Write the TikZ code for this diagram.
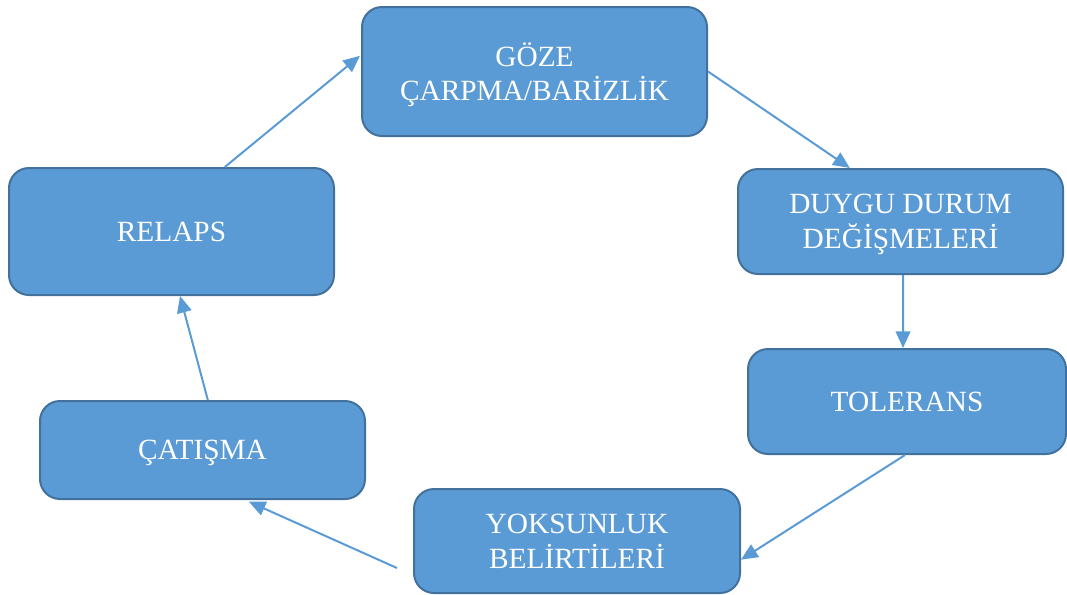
\documentclass[tikz,border=0pt]{standalone}
\usepackage{xcolor}
\usepackage{fontspec}
\setmainfont{Liberation Serif}
\usepackage{tikz}
\usetikzlibrary{arrows.meta, positioning}

\definecolor{boxfill}{HTML}{5B9BD5}
\definecolor{boxline}{HTML}{41719C}

\tikzset{
    stage/.style={draw=boxline, fill=boxfill, line width=1.5pt, rounded corners=15pt,
        text=white, align=center, text depth=0pt, font=\fontsize{22}{26}\selectfont},
    flow/.style={draw=boxfill, line width=1.5pt, -{Triangle[length=12.5pt, width=11pt]}}
}

\begin{document}
\begin{tikzpicture}[x=0.75pt, y=-0.75pt]
                \useasboundingbox (0,0) rectangle (1067,594);
                % Stages of the cycle
                \node[stage, minimum width=258.75pt, minimum height=96.75pt] (goze) at (534.5,71.5) {GÖZE\\ÇARPMA/BARİZLİK};
                \node[stage, minimum width=243.75pt, minimum height=78.75pt] (duygu) at (900.5,221.5) {DUYGU DURUM\\DEĞİŞMELERİ};
                \node[stage, minimum width=238.5pt, minimum height=78.75pt] (tolerans) at (907,401.5) {TOLERANS};
                \node[stage, minimum width=244.5pt, minimum height=78pt] (yoksunluk) at (577,541) {YOKSUNLUK\\BELİRTİLERİ};
                \node[stage, minimum width=243.75pt, minimum height=73.5pt] (catisma) at (202.5,450) {ÇATIŞMA};
                \node[stage, minimum width=243.75pt, minimum height=95.25pt] (relaps) at (171.5,231.5) {RELAPS};
                % Free start of the lower arrow
                \coordinate (yoksunlukout) at (397,568);
                % Arrows
                \draw[flow, shorten >=1pt] ([xshift=40pt]relaps.north) -- ([yshift=12.4pt]goze.west);
                \draw[flow] (goze.east) -- ([xshift=-38pt]duygu.north);
                \draw[flow] ([xshift=2pt]duygu.south) -- ([xshift=-3pt]tolerans.north);
                \draw[flow] ([xshift=-1.5pt]tolerans.south) -- ([yshift=-14pt]yoksunluk.east);
                \draw[flow, shorten >=3pt] (yoksunlukout) -- ([xshift=32pt]catisma.south);
                \draw[flow] ([xshift=4pt]catisma.north) -- ([xshift=6.4pt]relaps.south);
            \end{tikzpicture}
\end{document}
